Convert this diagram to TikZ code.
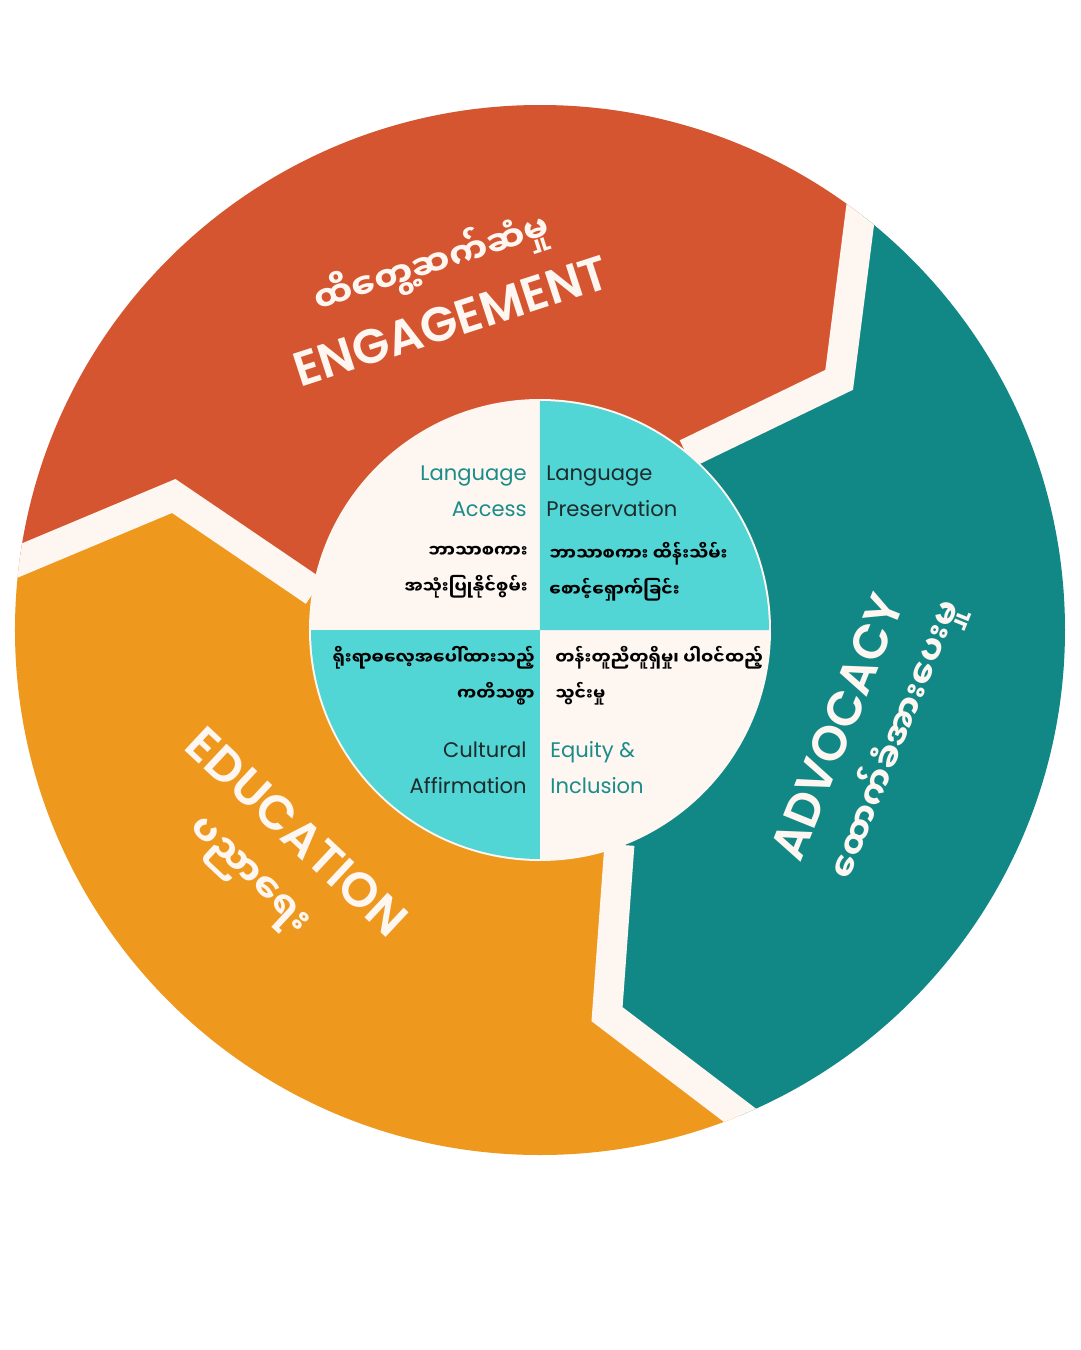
\documentclass[tikz,border=0pt]{standalone}
\usepackage{fontspec}
\setmainfont{Poppins}
\newfontfamily\headfont{Poppins SemiBold}
\newfontfamily\mmfont[Script=Myanmar]{Noto Sans Myanmar UI}
\usetikzlibrary{calc}
\definecolor{rust}{HTML}{D4552F}
\definecolor{deepteal}{HTML}{118886}
\definecolor{amber}{HTML}{EE981E}
\definecolor{aqua}{HTML}{52D5D5}
\definecolor{cream}{HTML}{FDF6F1}
\definecolor{tealtext}{HTML}{1B8C89}
\definecolor{darktext}{HTML}{1E2B2B}
\begin{document}
\begin{tikzpicture}[x=0.02cm,y=0.02cm,
  band/.style={cream,line width=0.6cm,line join=miter},
  head/.style={text=cream,font=\fontsize{27.5}{27.5}\selectfont\headfont,inner sep=0pt},
  mmhead/.style={text=cream,font=\fontsize{20}{20}\selectfont\mmfont\bfseries,inner sep=0pt},
  entext/.style={font=\fontsize{12}{20.5}\selectfont,inner sep=0pt},
  mmtext/.style={font=\fontsize{9.8}{20.5}\selectfont\mmfont\bfseries,inner sep=0pt}]
\path[use as bounding box,fill=white] (-540,-720) rectangle (540,630);
% separators between the three parts
\foreach \n/\a in {A/39.9,B/279.9,C/159.9}{
  \coordinate (in\n) at ({\a+10.4}:229);
  \coordinate (co\n) at (\a:390);
  \coordinate (ou\n) at ({\a+12.5}:525);
  \coordinate (ex\n) at ($(co\n)!1.6!(ou\n)$);
}
\begin{scope}
\clip (0,0) circle[radius=525];
\fill[cream] (0,0) circle[radius=525];
\fill[rust] (0,0)--(inC)--(coC)--(exC)--(150:900)--(90:900)--(60:900)--(exA)--(coA)--(inA)--cycle;
\fill[deepteal] (0,0)--(inA)--(coA)--(exA)--(20:900)--(-40:900)--(exB)--(coB)--(inB)--cycle;
\fill[amber] (0,0)--(inB)--(coB)--(exB)--(-100:900)--(-160:900)--(exC)--(coC)--(inC)--cycle;
\foreach \n in {A,B,C} \draw[band] (in\n)--(co\n)--(ex\n);
\end{scope}
% inner circle
\fill[cream] (0,0) circle[radius=231];
\fill[aqua] (0,0)--(0:229) arc[start angle=0,end angle=90,radius=229]--cycle;
\fill[aqua] (0,0)--(180:229) arc[start angle=180,end angle=270,radius=229]--cycle;
% outer labels
\node[head,rotate=18] (engEN) at (-89,309) {ENGAGEMENT};
\node[mmhead,rotate=18] (engMM) at (-108,366) {ထိတွေ့ဆက်ဆံမှု};
\node[head,rotate=68] (advEN) at (297,-97) {ADVOCACY};
\node[mmhead,rotate=68] (advMM) at (356,-110) {ထောက်ခံအားပေးမှု};
\node[head,rotate=-43] (eduEN) at (-243,-202) {EDUCATION};
\node[mmhead,font=\fontsize{21.5}{21.5}\selectfont\mmfont\bfseries,rotate=-43] (eduMM) at (-294,-249) {ပညာရေး};
% quadrant texts
\node[entext,text=tealtext,align=right,anchor=east] (accEN) at (-13,139) {Language\\Access};
\node[entext,text=darktext,align=left,anchor=west] (preEN) at (6,139) {Language\\Preservation};
\node[mmtext,align=right,anchor=east] (accMM) at (-12,58) {ဘာသာစကား\\အသုံးပြုနိုင်စွမ်း};
\node[mmtext,align=left,anchor=west] (preMM) at (9,58) {ဘာသာစကား ထိန်းသိမ်း\\စောင့်ရှောက်ခြင်း};
\node[mmtext,align=right,anchor=east] (culMM) at (-5,-46) {ရိုးရာဓလေ့အပေါ်ထားသည့်\\ကတိသစ္စာ};
\node[mmtext,align=left,anchor=west] (equMM) at (15,-46) {တန်းတူညီတူရှိမှု၊ ပါဝင်ထည့်\\သွင်းမှု};
\node[entext,text=darktext,align=right,anchor=east] (culEN) at (-13,-138) {Cultural\\Affirmation};
\node[entext,text=tealtext,align=left,anchor=west] (equEN) at (10,-138) {Equity \&\\Inclusion};
\end{tikzpicture}
\end{document}
